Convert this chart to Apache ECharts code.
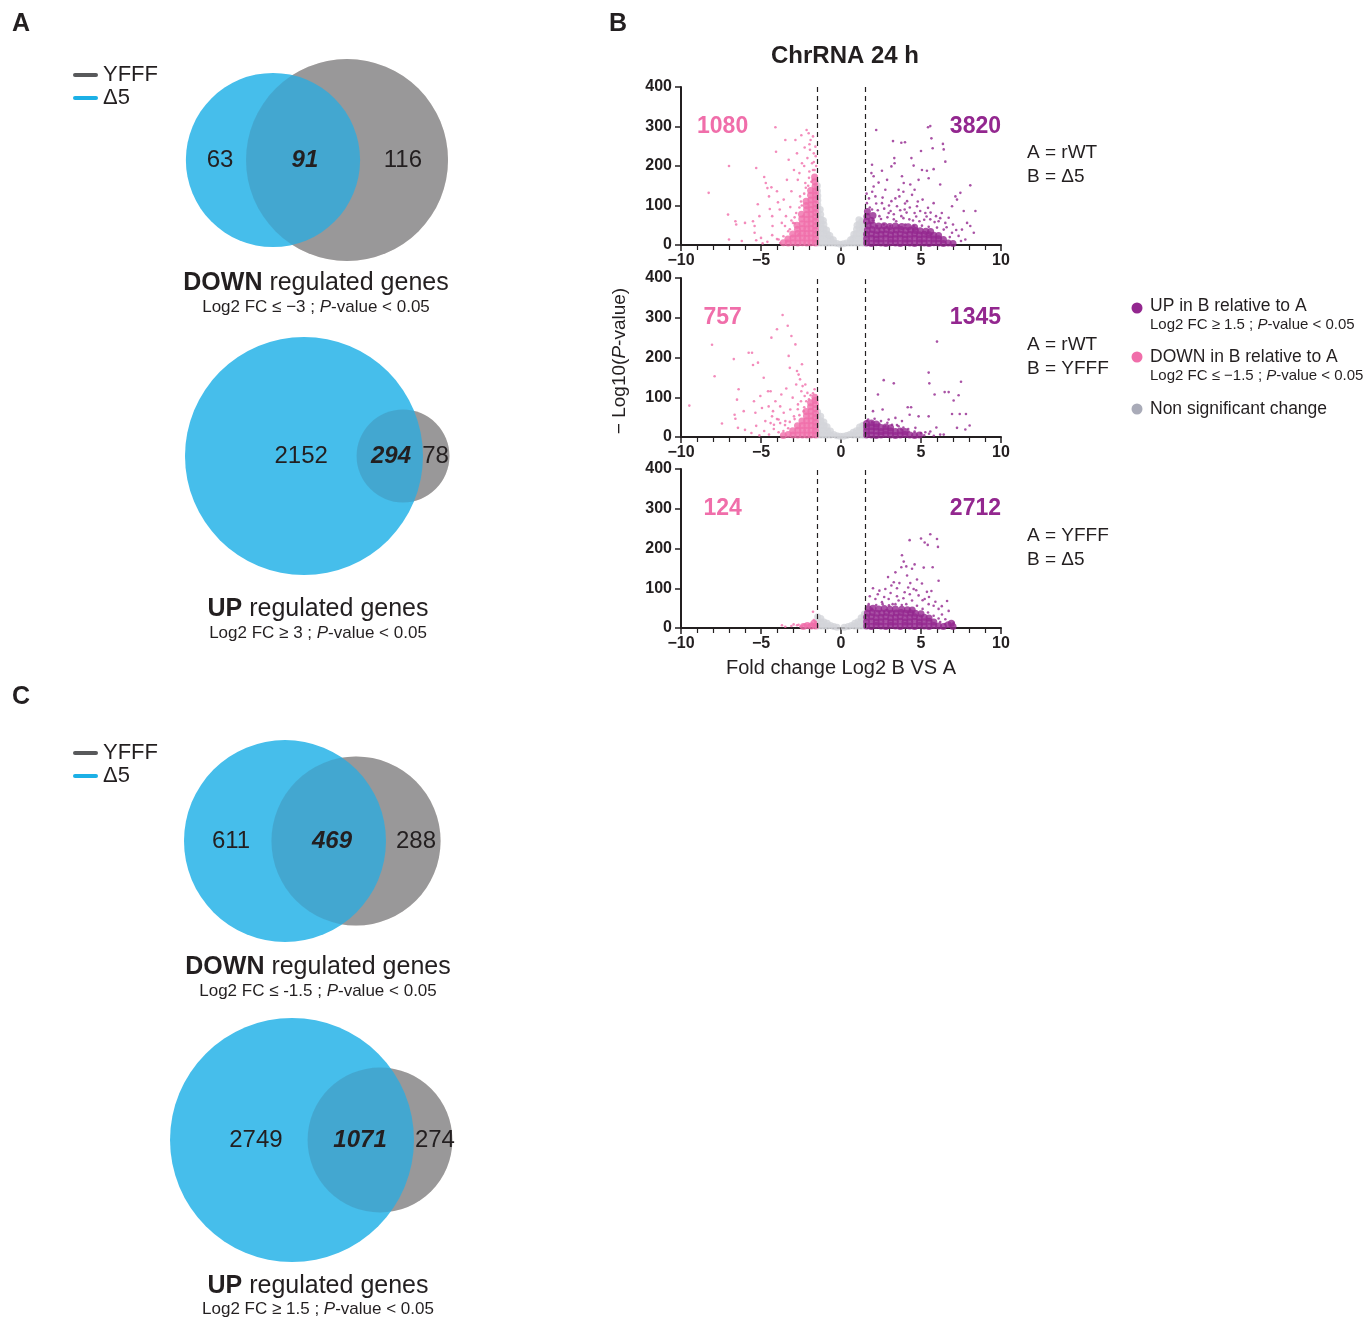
<!doctype html>
<html>
<head>
<meta charset="utf-8">
<script src="https://cdn.jsdelivr.net/npm/echarts@6/dist/echarts.min.js"></script>
<style>
    html, body { margin: 0; padding: 0; background: #fff; }
    #chart { width: 1364px; height: 1319px; }
</style>
</head>
<body>
<div id="chart"></div>
<script type="text/javascript">
// ---- Venn counts: [Δ5 only, shared, YFFF only]
var vennDownA = [63, 91, 116];
var vennUpA = [2152, 294, 78];
var vennDownC = [611, 469, 288];
var vennUpC = [2749, 1071, 274];

// ---- volcano counts: [down, up] per comparison
var volcanoCounts = [[1080, 3820], [757, 1345], [124, 2712]];
var volcanoPairs = [['A = rWT', 'B = \u03945'], ['A = rWT', 'B = YFFF'], ['A = YFFF', 'B = \u03945']];

// ---- volcano 1 : rWT vs Δ5
var ns1 = [[-1.45,5],[-1.45,17],[-1.45,29],[-1.45,41],[-1.45,53],[-1.45,65],[-1.45,77],[-1.45,89],[-1.45,101],[-1.45,113],[-1.45,125],[-1.47,137],[-1.48,150],
    [-1.25,5],[-1.25,17],[-1.25,29],[-1.25,41],[-1.25,53],[-1.25,65],[-1.27,77],[-1.3,90],
    [-1.05,5],[-1.05,17],[-1.05,29],[-1.05,41],[-1.07,52],[-1.1,62],
    [-0.85,5],[-0.85,17],[-0.85,28],[-0.9,38],[-0.65,5],[-0.65,15],[-0.7,24],[-0.45,5],[-0.48,13],
    [-0.25,4],[-0.05,2],[0.15,3],[0.35,5],[0.55,5],[0.6,13],[0.75,5],[0.75,17],[0.8,27],
    [0.95,5],[0.95,17],[0.95,29],[0.97,40],[1.0,50],[1.15,5],[1.15,17],[1.15,29],[1.15,41],[1.13,53],[1.12,64],
    [1.35,5],[1.35,17],[1.35,29],[1.35,41],[1.33,52],[1.3,60],[1.47,5],[1.47,17],[1.47,29],[1.47,40],[1.46,50]];
var down1Dense = [[-1.6,5],[-1.6,16],[-1.6,27],[-1.6,38],[-1.6,49],[-1.6,60],[-1.6,71],[-1.6,82],[-1.6,93],[-1.6,104],[-1.6,115],[-1.6,126],[-1.6,137],[-1.62,148],[-1.63,160],[-1.65,172],
    [-1.87,6],[-1.87,18],[-1.87,30],[-1.87,42],[-1.87,54],[-1.87,66],[-1.87,78],[-1.87,90],[-1.88,102],[-1.88,114],[-1.9,126],[-1.9,138],
    [-2.14,5],[-2.14,17],[-2.14,29],[-2.14,41],[-2.14,53],[-2.14,65],[-2.15,77],[-2.15,89],[-2.17,100],[-2.18,111],
    [-2.41,6],[-2.41,18],[-2.41,30],[-2.41,42],[-2.43,54],[-2.45,66],[-2.47,78],
    [-2.7,5],[-2.7,17],[-2.7,29],[-2.72,40],[-2.75,50],[-3.0,6],[-3.0,18],[-3.02,28],[-3.3,5],[-3.32,15],[-3.6,6]];
var down1Sparse = [[-8.27,132],[-7.0,200],[-7.06,77],[-7.0,14],[-6.6,60],[-6.55,52],[-6.2,10],[-6.0,56],[-5.5,60],[-5.4,48],[-5.4,31],[-5.3,195],
    [-5.2,103],[-5.1,73],[-5.0,18],[-4.8,172],[-4.7,157],[-4.6,144],[-4.5,123],[-4.45,91],[-4.35,146],[-4.3,73],[-4.28,48],[-4.1,298],
    [-4.06,236],[-4.0,136],[-3.94,108],[-3.9,14],[-3.83,90],[-3.7,56],[-3.58,115],[-3.48,266],[-3.44,73],[-3.38,165],[-3.3,35],[-3.27,216],
    [-3.17,96],[-3.1,136],[-3.0,56],[-2.94,190],[-2.85,266],[-2.8,81],[-2.75,232],[-2.7,165],[-2.65,27],[-2.56,123],[-2.48,278],[-2.44,207],
    [-2.35,73],[-2.27,247],[-2.23,157],[-2.15,291],[-2.1,220],[-2.02,283],[-1.98,186],[-1.94,241],[-1.9,266],[-1.81,207],[-1.77,165],
    [-1.7,232],[-1.65,190],[-1.6,249],[-1.56,140],[-3.4,10],[-3.6,22],[-3.8,5],[-4.0,15],[-4.3,25],[-4.6,8],[-4.9,4],[-5.3,12],[-3.2,40],
    [-2.9,55],[-3.5,48],[-2.6,95],[-2.5,110],[-2.3,130],[-2.05,150],[-1.75,190],[-1.7,210],[-2.0,170],[-2.2,145],[-2.45,100],[-2.9,70],
    [-3.1,62],[-1.85,160],[-1.55,200],[-1.58,225],[-1.75,275],[-1.97,255],[-2.3,200],[-2.6,182]];
var up1Dense = [[1.6,5],[1.9,4],[2.2,6],[2.5,5],[2.8,4],[3.1,6],[3.4,5],[3.7,4],[4.0,6],[4.3,5],[4.6,4],[4.9,6],[5.2,5],[5.5,4],[5.8,6],[6.1,5],[6.4,4],[6.7,5],[7.0,4],
    [1.6,16],[1.9,17],[2.2,15],[2.5,16],[2.8,17],[3.1,15],[3.4,16],[3.7,17],[4.0,15],[4.3,16],[4.6,17],[4.9,15],[5.2,16],[5.5,17],[5.8,15],[6.1,16],[6.4,14],
    [1.6,27],[1.9,28],[2.2,26],[2.5,27],[2.8,28],[3.1,26],[3.4,27],[3.7,28],[4.0,26],[4.3,27],[4.6,28],[4.9,26],[5.2,27],[5.5,26],[5.8,25],[6.1,24],
    [1.65,38],[1.95,39],[2.25,37],[2.55,38],[2.85,39],[3.15,37],[3.45,38],[3.75,39],[4.05,37],[4.35,38],[4.65,37],[4.95,36],[5.3,35],[5.6,34],
    [1.7,49],[2.0,50],[2.35,48],[2.7,49],[3.05,47],[3.4,48],[3.8,47],[4.2,46],[4.6,45],[1.6,60],[1.62,72],[1.65,85],[1.9,62],[2.0,75]];
var up1Sparse = [[2.2,291],[3.25,263],[3.77,259],[4.0,260],[5.0,238],[5.37,188],[5.44,298],[5.58,301],[5.65,270],[5.73,245],[6.37,256],[6.42,242],
    [6.52,211],[5.79,192],[4.54,201],[4.4,220],[3.33,220],[3.35,207],[3.15,199],[1.94,203],[1.9,182],[2.04,174],[2.35,158],[2.56,188],[3.81,174],
    [3.92,157],[3.6,140],[4.85,165],[5.06,190],[5.48,169],[6.2,153],[8.08,151],[7.15,123],[7.46,132],[7.25,115],[6.94,98],[7.67,86],[8.4,86],
    [7.88,56],[8.08,48],[7.56,39],[8.3,31],[7.35,23],[7.77,14],[1.62,106],[1.94,90],[2.15,123],[2.4,73],[2.56,106],[2.77,140],[2.98,81],[3.15,111],
    [3.3,65],[3.5,98],[3.65,123],[3.77,73],[3.98,90],[4.13,111],[4.27,65],[4.44,127],[4.6,81],[4.75,98],[4.9,60],[5.1,115],[5.27,81],[5.44,94],
    [5.58,65],[5.79,106],[5.94,73],[6.1,60],[6.3,81],[6.52,56],[6.73,69],[1.83,56],[2.25,48],[2.67,52],[3.08,48],[3.6,49],[4.02,52],[4.54,48],
    [5.06,49],[5.48,46],[6.0,44],[6.42,39],[6.94,31],[2.04,148],[2.88,165],[4.33,153],[1.7,78],[1.8,95],[2.0,62],[2.3,88],[2.5,66],[2.7,92],
    [2.9,70],[3.1,86],[3.3,78],[3.45,60],[3.7,88],[3.9,68],[4.1,82],[4.3,95],[4.5,62],[4.7,72],[4.95,86],[5.2,64],[5.35,72],[5.6,82],[5.85,58],
    [6.2,68],[6.6,45],[7.0,52],[7.2,38],[6.8,20],[7.5,10],[1.6,130],[1.75,118],[2.6,120],[3.0,100],[3.4,118],[4.0,105],[4.8,110],[2.2,105],
    [1.95,135],[3.9,135],[4.6,140]];

// ---- volcano 2 : rWT vs YFFF
var ns2 = [[-1.45,5],[-1.45,17],[-1.45,29],[-1.45,41],[-1.45,53],[-1.46,63],[-1.25,5],[-1.25,17],[-1.25,29],[-1.25,41],[-1.27,52],
    [-1.05,5],[-1.05,17],[-1.05,29],[-1.07,38],[-0.85,5],[-0.85,16],[-0.87,26],[-0.65,5],[-0.66,15],[-0.45,6],[-0.25,3],[-0.05,2],
    [0.15,2],[0.35,4],[0.55,6],[0.75,5],[0.76,12],[0.95,5],[0.96,16],[1.15,5],[1.15,17],[1.16,25],[1.35,5],[1.35,17],[1.35,29],
    [1.47,5],[1.47,17],[1.47,30]];
var down2Dense = [[-1.6,5],[-1.6,16],[-1.6,27],[-1.6,38],[-1.6,49],[-1.6,60],[-1.6,71],[-1.6,82],[-1.62,92],[-1.63,100],
    [-1.87,5],[-1.87,17],[-1.87,29],[-1.87,41],[-1.87,53],[-1.88,65],[-1.9,76],[-1.9,86],
    [-2.14,5],[-2.14,17],[-2.14,29],[-2.15,41],[-2.16,53],[-2.18,64],[-2.41,5],[-2.41,17],[-2.42,29],[-2.44,40],
    [-2.7,5],[-2.7,17],[-2.72,28],[-3.0,5],[-3.02,16],[-3.3,6],[-3.6,4]];
var down2Sparse = [[-9.48,79],[-8.06,232],[-7.9,153],[-7.44,34],[-6.7,196],[-6.65,56],[-6.6,46],[-6.4,120],[-6.5,94],[-6.44,23],[-6.08,65],
    [-5.77,212],[-5.56,212],[-5.5,181],[-5.44,90],[-5.35,61],[-5.19,187],[-5.04,103],[-4.94,73],[-4.83,149],[-4.73,40],[-4.56,115],[-4.52,77],
    [-4.4,115],[-4.35,250],[-4.31,52],[-4.25,65],[-4.19,31],[-4.1,90],[-4.0,271],[-3.9,44],[-3.8,77],[-3.73,107],[-3.65,307],[-3.58,61],
    [-3.48,40],[-3.42,122],[-3.33,280],[-3.27,204],[-3.2,174],[-3.17,69],[-3.1,254],[-3.02,99],[-2.94,52],[-2.85,233],[-2.8,132],[-2.75,166],
    [-2.69,82],[-2.65,157],[-2.56,145],[-2.48,115],[-2.44,183],[-2.4,128],[-2.33,65],[-2.27,103],[-2.23,132],[-2.17,90],[-2.1,111],
    [-3.9,12],[-4.2,20],[-4.5,6],[-4.8,15],[-5.1,4],[-3.5,30],[-3.8,35],[-4.0,45],[-4.4,35],[-5.3,28],[-5.6,10],[-6.0,18],[-2.9,45],
    [-3.2,38],[-2.6,55],[-2.3,75],[-2.0,95],[-1.75,110],[-1.65,120],[-1.9,105],[-2.7,70],[-2.5,90],[-3.3,22],[-3.6,15]];
var up2Dense = [[1.6,5],[1.9,5],[2.2,4],[2.5,5],[2.8,6],[3.1,5],[3.4,4],[3.7,5],[4.0,6],[4.3,5],[4.6,4],[4.9,5],
    [1.6,15],[1.9,16],[2.2,15],[2.5,14],[2.8,16],[3.1,15],[3.4,14],[3.7,15],[4.0,14],
    [1.6,25],[1.9,26],[2.2,25],[2.5,24],[2.8,25],[3.1,23],[1.6,34],[1.9,35],[2.2,33]];
var up2Sparse = [[2.31,107],[2.6,69],[2.67,143],[2.0,65],[3.3,135],[2.98,44],[3.4,48],[3.81,40],[4.17,75],[4.38,75],[4.29,56],[4.85,52],
    [5.48,162],[5.52,135],[6.0,240],[5.85,107],[6.48,113],[6.73,113],[7.04,92],[7.35,105],[7.5,139],[6.94,58],[7.42,58],[7.81,58],[7.25,23],
    [7.77,19],[8.04,29],[5.48,52],[5.96,24],[5.58,14],[5.27,12],[6.42,6],[4.23,14],[4.65,23],[3.77,19],[3.6,27],[1.63,41],[1.94,37],[2.4,33],
    [2.77,27],[3.19,31],[5.2,4],[5.5,8],[5.8,3],[6.2,6],[5.0,10],[4.6,14],[4.2,20],[3.9,24],[3.5,30],[2.9,36],[2.5,40],[1.7,44],[2.1,46]];

// ---- volcano 3 : YFFF vs Δ5
var ns3 = [[-1.45,5],[-1.45,17],[-1.46,28],[-1.25,5],[-1.25,16],[-1.26,24],[-1.05,5],[-1.06,15],[-0.85,5],[-0.86,12],[-0.65,6],
    [-0.45,4],[-0.25,2],[0.2,2],[0.45,4],[0.65,6],[0.85,5],[0.86,12],[1.05,5],[1.06,16],[1.25,5],[1.25,17],[1.26,26],
    [1.45,5],[1.45,17],[1.45,29],[1.46,35]];
var down3Dense = [[-1.6,5],[-1.85,5],[-2.1,6],[-2.35,4],[-1.7,12]];
var down3Sparse = [[-3.69,7],[-3.48,3],[-2.96,9],[-2.75,7],[-2.44,5],[-2.23,9],[-2.02,8],[-1.75,41],[-1.92,5],[-1.81,11],[-1.65,9],
    [-2.1,5],[-2.54,3],[-2.33,8],[-1.56,6],[-3.1,5],[-2.65,8],[-1.6,15],[-1.7,20]];
var up3Dense = [[1.6,5],[1.9,4],[2.2,6],[2.5,5],[2.8,4],[3.1,6],[3.4,5],[3.7,4],[4.0,6],[4.3,5],[4.6,4],[4.9,6],[5.2,5],[5.5,4],[5.8,6],[6.1,5],[6.4,4],
    [1.6,16],[1.9,17],[2.2,15],[2.5,16],[2.8,17],[3.1,15],[3.4,16],[3.7,17],[4.0,15],[4.3,16],[4.6,17],[4.9,15],[5.2,16],[5.5,17],[5.8,15],
    [1.6,27],[1.9,28],[2.2,26],[2.5,27],[2.8,28],[3.1,26],[3.4,27],[3.7,28],[4.0,26],[4.3,27],[4.6,28],[4.9,26],[5.2,27],[5.5,25],
    [1.65,38],[1.95,39],[2.25,37],[2.55,38],[2.85,39],[3.15,37],[3.45,38],[3.75,39],[4.05,37],[4.35,38],[4.65,37],[5.0,36],
    [1.7,49],[2.0,50],[2.35,48],[2.7,49],[3.05,47],[3.4,48],[3.8,47],[4.15,46],[4.45,45],[6.7,8],[7.0,4],[6.9,12]];
var up3Sparse = [[5.0,225],[5.23,215],[5.42,209],[5.58,236],[6.0,224],[6.06,204],[4.29,221],[3.81,183],[3.92,167],[3.77,153],[4.08,155],
    [4.44,149],[4.6,160],[5.17,152],[5.73,153],[6.1,119],[5.65,93],[6.63,68],[6.73,43],[7.04,13],[6.52,22],[6.31,34],[5.37,91],[5.06,112],
    [4.75,122],[4.33,113],[4.13,132],[3.4,140],[3.15,107],[2.94,128],[2.77,98],[2.4,94],[3.5,100],[3.65,113],[3.98,90],[4.54,98],[4.85,82],
    [5.23,73],[5.48,60],[5.79,56],[6.1,48],[2.15,73],[2.56,65],[2.98,73],[3.23,60],[3.6,69],[4.08,60],[4.44,69],[4.75,56],[1.73,60],[1.94,48],
    [5.1,48],[5.44,39],[5.79,31],[6.1,24],[2.2,58],[2.6,60],[3.0,57],[3.4,60],[3.8,58],[1.8,80],[2.3,85],[2.7,78],[3.1,88],[3.5,80],[3.9,75],
    [4.3,85],[4.7,95],[5.1,70],[5.5,78],[2.0,100],[3.3,115],[4.2,102],[5.9,66],[6.3,55],[6.5,10],[6.2,15]];

// ---- styles / layout
var FF = '"Liberation Sans", Arial, Helvetica, sans-serif';
var INK = '#231f20', PURPLE = '#93278f', PINK = '#f06eaa', NSC = '#d3d5da';
// gray base + opaque blue + tinted gray overlay -> gray-only #999, overlap #44a8d0
var VENN_GRAY_BASE = 'rgb(192,168,156)', VENN_BLUE = 'rgb(70,190,235)', VENN_GRAY_TINT = 'rgba(63,117,145,0.3)';
var DENSE = 7, SPARSE = 2.6;

var chart = echarts.init(document.getElementById('chart'), null, { renderer: 'canvas' });

var volcanoTops = [87, 278, 469];
var volcanoH = [158, 159, 159];
var vennBoxes = [
    { mx: 310, my: 160, R: 101, sep: 0.733, lx: [-0.89, -0.05, 0.92] },
    { mx: 353.5, my: 456, R: 119, sep: 0.832, lx: [-0.44, 0.315, 0.69] },
    { mx: 320.5, my: 841, R: 101, sep: 0.703, lx: [-0.886, 0.114, 0.946] },
    { mx: 336, my: 1140, R: 122, sep: 0.721, lx: [-0.656, 0.197, 0.811] }
];
var vennData = [vennDownA, vennUpA, vennDownC, vennUpC];

var grids = [], xAxes = [], yAxes = [], series = [];

function minus(v) { return String(v).replace('-', '\u2212'); }

volcanoTops.forEach(function (top, i) {
    grids.push({ left: 681, top: top, width: 320, height: volcanoH[i] });
    var xa = {
        gridIndex: i, type: 'value', min: -10, max: 10, interval: 5,
        axisLine: { show: true, onZero: false, lineStyle: { color: INK, width: 2 } },
        axisTick: { show: true, inside: false, length: 6, lineStyle: { color: INK, width: 1.5 } },
        minorTick: { show: true, splitNumber: 5, length: 5, lineStyle: { color: INK, width: 1.2 } },
        splitLine: { show: false }, minorSplitLine: { show: false },
        axisLabel: { formatter: minus, fontSize: 16, fontWeight: 'bold', color: INK, fontFamily: FF, margin: 8 }
    };
    if (i === 2) {
        xa.name = 'Fold change Log2 B VS A';
        xa.nameLocation = 'middle';
        xa.nameGap = 30;
        xa.nameTextStyle = { fontSize: 20, color: INK, fontFamily: FF };
    }
    xAxes.push(xa);
    yAxes.push({
        gridIndex: i, type: 'value', min: 0, max: 400, interval: 100,
        axisLine: { show: true, onZero: false, lineStyle: { color: INK, width: 2 } },
        axisTick: { show: true, inside: false, length: 6, lineStyle: { color: INK, width: 1.5 } },
        splitLine: { show: false },
        axisLabel: { fontSize: 16, fontWeight: 'bold', color: INK, fontFamily: FF, margin: 9 }
    });
});

vennBoxes.forEach(function (b, k) {
    grids.push({ left: b.mx - 1.6 * b.R, top: b.my - 1.2 * b.R, width: 3.2 * b.R, height: 2.4 * b.R });
    xAxes.push({ gridIndex: 3 + k, type: 'value', min: -1.6, max: 1.6, show: false });
    yAxes.push({ gridIndex: 3 + k, type: 'value', min: -1.2, max: 1.2, show: false });
});

var volcanoSets = [
    [ns1, down1Dense, down1Sparse, up1Dense, up1Sparse],
    [ns2, down2Dense, down2Sparse, up2Dense, up2Sparse],
    [ns3, down3Dense, down3Sparse, up3Dense, up3Sparse]
];

volcanoSets.forEach(function (s, i) {
    var base = { type: 'scatter', xAxisIndex: i, yAxisIndex: i, silent: true, symbol: 'circle' };
    series.push(Object.assign({}, base, {
        data: s[0], symbolSize: DENSE, itemStyle: { color: NSC },
        markLine: {
            silent: true, symbol: 'none', label: { show: false },
            lineStyle: { color: INK, type: [5, 4], width: 1.2 },
            data: [{ xAxis: -1.5 }, { xAxis: 1.5 }]
        }
    }));
    series.push(Object.assign({}, base, { data: s[1], symbolSize: DENSE, itemStyle: { color: PINK } }));
    series.push(Object.assign({}, base, { data: s[2], symbolSize: SPARSE, itemStyle: { color: PINK } }));
    series.push(Object.assign({}, base, { data: s[3], symbolSize: DENSE, itemStyle: { color: PURPLE } }));
    series.push(Object.assign({}, base, { data: s[4], symbolSize: SPARSE, itemStyle: { color: PURPLE } }));
    // counts of significant genes
    series.push({
        type: 'custom', xAxisIndex: i, yAxisIndex: i, silent: true,
        data: [[0, volcanoCounts[i][0]], [1, volcanoCounts[i][1]]],
        renderItem: function (params, api) {
            var side = api.value(0);
            var p = api.coord([side ? 10 : -7.4, 300]);
            return {
                type: 'text', x: p[0], y: p[1],
                style: {
                    text: String(api.value(1)), fill: side ? PURPLE : PINK,
                    fontSize: 23, fontWeight: 'bold', fontFamily: FF,
                    align: side ? 'right' : 'center', verticalAlign: 'middle'
                }
            };
        }
    });
});

vennData.forEach(function (counts, k) {
    var lay = vennBoxes[k];
    series.push({
        type: 'custom', xAxisIndex: 3 + k, yAxisIndex: 3 + k, silent: true,
        data: [counts],
        renderItem: function (params, api) {
            var a = api.value(0), s = api.value(1), g = api.value(2);
            var blueTot = a + s, grayTot = s + g, maxTot = Math.max(blueTot, grayTot);
            var unit = api.size([1, 1])[0];
            var cB = api.coord([-lay.sep / 2, 0]);
            var cG = api.coord([lay.sep / 2, 0]);
            var rB = unit * Math.sqrt(blueTot / maxTot), rG = unit * Math.sqrt(grayTot / maxTot);
            var vals = [a, s, g];
            var children = [
                { type: 'circle', shape: { cx: cG[0], cy: cG[1], r: rG }, style: { fill: VENN_GRAY_BASE } },
                { type: 'circle', shape: { cx: cB[0], cy: cB[1], r: rB }, style: { fill: VENN_BLUE } },
                { type: 'circle', shape: { cx: cG[0], cy: cG[1], r: rG }, style: { fill: VENN_GRAY_TINT } }
            ];
            vals.forEach(function (v, j) {
                var p = api.coord([lay.lx[j], 0]);
                children.push({
                    type: 'text', x: p[0], y: p[1],
                    style: {
                        text: String(v), fill: INK, fontSize: 24, fontFamily: FF,
                        fontWeight: j === 1 ? 'bold' : 'normal', fontStyle: j === 1 ? 'italic' : 'normal',
                        align: 'center', verticalAlign: 'middle'
                    }
                });
            });
            return { type: 'group', children: children };
        }
    });
});

// ---- free text
function txt(x, y, text, size, opts) {
    var st = Object.assign({ text: text, fill: INK, fontSize: size, fontFamily: FF, align: 'left', verticalAlign: 'middle' }, opts || {});
    return { type: 'text', x: x, y: y, silent: true, style: st };
}
function richFC(size) {
    return {
        b: { fontWeight: 'bold', fontSize: size, fontFamily: FF, fill: INK },
        i: { fontStyle: 'italic', fontSize: size, fontFamily: FF, fill: INK }
    };
}

var graphics = [
    txt(12, 24, 'A', 25, { fontWeight: 'bold' }),
    txt(609, 24, 'B', 25, { fontWeight: 'bold' }),
    txt(12, 697, 'C', 25, { fontWeight: 'bold' }),
    txt(845, 56, 'ChrRNA 24 h', 24, { fontWeight: 'bold', align: 'center' })
];

[[75, 98], [753, 776]].forEach(function (ys) {
    graphics.push({ type: 'line', silent: true, shape: { x1: 75, y1: ys[0], x2: 96, y2: ys[0] }, style: { stroke: '#58595b', lineWidth: 4, lineCap: 'round' } });
    graphics.push({ type: 'line', silent: true, shape: { x1: 75, y1: ys[1], x2: 96, y2: ys[1] }, style: { stroke: '#1cb0e6', lineWidth: 4, lineCap: 'round' } });
    graphics.push(txt(103, ys[0], 'YFFF', 22));
    graphics.push(txt(103, ys[1], '\u03945', 22));
});

var captions = [
    [316, 283, 307, 'DOWN', 'Log2 FC \u2264 \u22123 ; {i|P}-value < 0.05'],
    [318, 609, 633, 'UP', 'Log2 FC \u2265 3 ; {i|P}-value < 0.05'],
    [318, 967, 991, 'DOWN', 'Log2 FC \u2264 -1.5 ; {i|P}-value < 0.05'],
    [318, 1286, 1309, 'UP', 'Log2 FC \u2265 1.5 ; {i|P}-value < 0.05']
];
captions.forEach(function (c) {
    graphics.push(txt(c[0], c[1], '{b|' + c[3] + '} regulated genes', 25, { align: 'center', rich: richFC(25) }));
    graphics.push(txt(c[0], c[2], c[4], 17, { align: 'center', rich: richFC(17) }));
});

volcanoPairs.forEach(function (p, i) {
    var y0 = [153, 345, 536][i];
    graphics.push(txt(1027, y0, p[0], 19));
    graphics.push(txt(1027, y0 + 24, p[1], 19));
});

[[308, PURPLE], [357, PINK], [409, '#a9abb8']].forEach(function (d) {
    graphics.push({ type: 'circle', silent: true, shape: { cx: 1137, cy: d[0], r: 5.5 }, style: { fill: d[1] } });
});
graphics.push(txt(1150, 306, 'UP in B relative to A', 17.5));
graphics.push(txt(1150, 325, 'Log2 FC \u2265 1.5 ; {i|P}-value < 0.05', 15, { rich: richFC(15) }));
graphics.push(txt(1150, 357, 'DOWN in B relative to A', 17.5));
graphics.push(txt(1150, 376, 'Log2 FC \u2264 \u22121.5 ; {i|P}-value < 0.05', 15, { rich: richFC(15) }));
graphics.push(txt(1150, 409, 'Non significant change', 17.5));

graphics.push({
    type: 'text', x: 620, y: 361, rotation: Math.PI / 2, silent: true,
    style: { text: '\u2212 Log10({i|P}-value)', fill: INK, fontSize: 19, fontFamily: FF, align: 'center', verticalAlign: 'middle', rich: richFC(19) }
});

chart.setOption({
    animation: false,
    backgroundColor: '#ffffff',
    grid: grids,
    xAxis: xAxes,
    yAxis: yAxes,
    series: series,
    graphic: graphics
});
</script>
</body>
</html>
